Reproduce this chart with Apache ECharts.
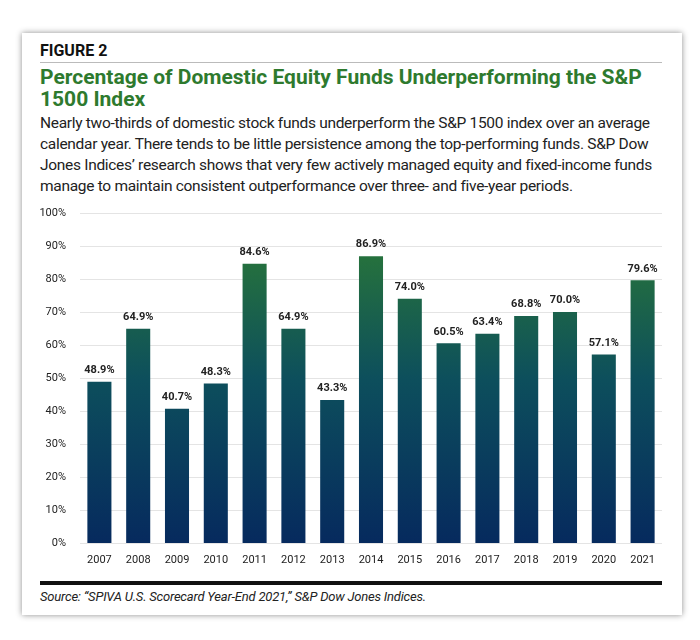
<!DOCTYPE html>
<html>
<head>
<meta charset="utf-8">
<script src="https://cdn.jsdelivr.net/npm/echarts@6/dist/echarts.min.js"></script>
<style>
body{margin:0;width:700px;height:640px;background:#fff;font-family:"Roboto",sans-serif;}
#card{position:absolute;left:22px;top:33px;width:660px;height:582px;background:#fff;box-shadow:0 0 6px rgba(0,0,0,0.45);}
.t{position:absolute;left:18px;right:20px;}
#fig{top:8px;font-weight:bold;font-size:16px;color:#111;border-bottom:1.5px solid #bbb;padding-bottom:2px;}
#ttl{top:33px;font-weight:bold;font-size:21px;line-height:22px;color:#2e7a2e;}
#sub{top:80px;font-size:15.5px;line-height:21px;color:#222;letter-spacing:-0.3px;white-space:nowrap;}
#chart{position:absolute;left:0;top:162px;width:660px;height:380px;}
#src{top:548px;border-top:4px solid #111;padding-top:4px;font-style:italic;font-size:13px;color:#222;letter-spacing:-0.2px;}
</style>
</head>
<body>
<div id="card">
  <div class="t" id="fig">FIGURE 2</div>
  <div class="t" id="ttl">Percentage of Domestic Equity Funds Underperforming the S&amp;P 1500 Index</div>
  <div class="t" id="sub">Nearly two-thirds of domestic stock funds underperform the S&amp;P 1500 index over an average<br>calendar year. There tends to be little persistence among the top-performing funds. S&amp;P Dow<br>Jones Indices’ research shows that very few actively managed equity and fixed-income funds<br>manage to maintain consistent outperformance over three- and five-year periods.</div>
  <div id="chart"></div>
  <div class="t" id="src">Source: “SPIVA U.S. Scorecard Year-End 2021,” S&amp;P Dow Jones Indices.</div>
</div>
<script>
var years = ['2007','2008','2009','2010','2011','2012','2013','2014','2015','2016','2017','2018','2019','2020','2021'];
var underperforming = [48.9,64.9,40.7,48.3,84.6,64.9,43.3,86.9,74.0,60.5,63.4,68.8,70.0,57.1,79.6];

var chart = echarts.init(document.getElementById('chart'));
chart.setOption({
    animation: false,
    textStyle: {fontFamily: 'Roboto'},
    grid: {left: 58, right: 20, top: 18, bottom: 32},
    xAxis: {
        type: 'category',
        data: years,
        axisLine: {show: false},
        axisTick: {show: false},
        axisLabel: {color: '#222', fontSize: 11, margin: 12}
    },
    yAxis: {
        type: 'value',
        min: 0, max: 100, interval: 10,
        axisLabel: {formatter: '{value}%', color: '#222', fontSize: 11, margin: 14},
        splitLine: {lineStyle: {color: '#e4e4e4'}}
    },
    series: [{
        type: 'bar',
        data: underperforming,
        barCategoryGap: '38%',
        itemStyle: {
            color: new echarts.graphic.LinearGradient(0, 18, 0, 348, [
                {offset: 0, color: '#2e7d32'},
                {offset: 0.5, color: '#0d4f5c'},
                {offset: 1, color: '#062a5e'}
            ], true)
        },
        label: {
            show: true, position: 'top', distance: 6,
            formatter: function (p) { return p.value.toFixed(1) + '%'; },
            fontWeight: 'bold', fontSize: 11, color: '#222'
        }
    }]
});
</script>
</body>
</html>
